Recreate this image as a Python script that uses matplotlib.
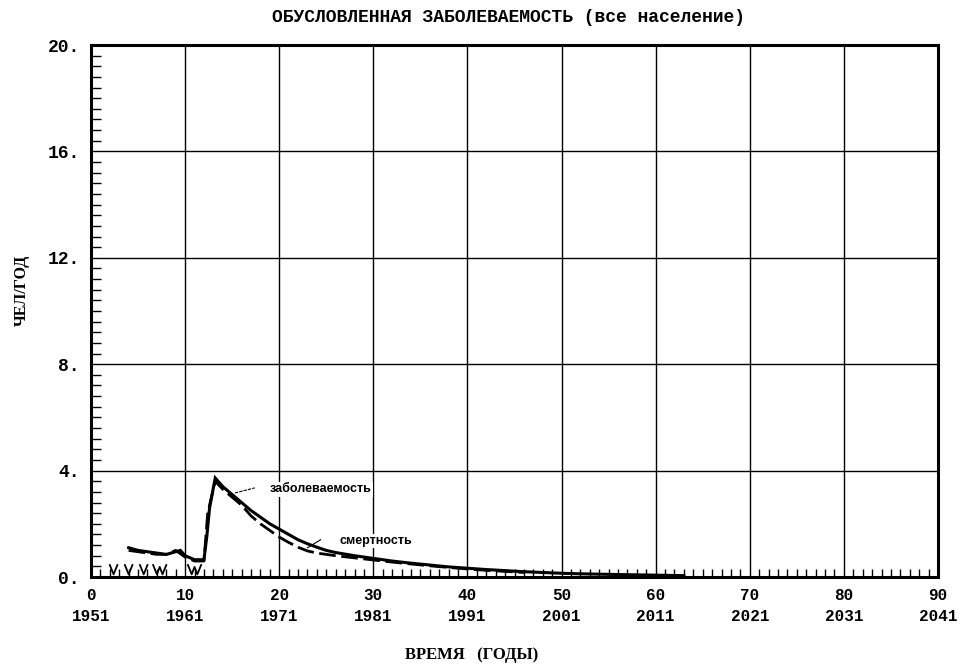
import numpy as np
import matplotlib
matplotlib.use("Agg")
import matplotlib.pyplot as plt
from matplotlib.ticker import MultipleLocator

# ---- data ----
inc_x = [4, 5, 6, 7, 8, 9, 9.5, 10, 11, 12, 12.3, 12.6, 13.2, 14, 15, 16, 17, 18, 19, 20,
         21, 22, 23, 24, 25, 26, 28, 30, 32, 34, 36, 38, 40, 42, 44, 46, 48, 50, 52, 55,
         58, 60, 63]
inc_y = [1.1, 1.0, 0.95, 0.9, 0.85, 0.95, 1.0, 0.8, 0.65, 0.65, 1.5, 2.6, 3.72, 3.4, 3.1,
         2.8, 2.5, 2.25, 2.0, 1.8, 1.6, 1.4, 1.25, 1.12, 1.0, 0.92, 0.8, 0.7, 0.6, 0.52,
         0.45, 0.38, 0.33, 0.28, 0.24, 0.2, 0.17, 0.14, 0.12, 0.1, 0.08, 0.07, 0.05]

mort_x = [4, 5, 6, 7, 8, 9, 10, 11, 12, 12.4, 13.2, 14, 15, 16, 17, 18, 19, 20, 21, 22,
          23, 24, 25, 26, 28, 30, 32, 34, 36, 38, 40, 42, 44, 46]
mort_y = [1.0, 0.95, 0.9, 0.85, 0.85, 1.0, 0.75, 0.6, 0.6, 2.4, 3.6, 3.3, 3.0, 2.7, 2.3,
          2.0, 1.75, 1.5, 1.3, 1.12, 0.98, 0.9, 0.85, 0.8, 0.72, 0.64, 0.56, 0.49, 0.42,
          0.36, 0.3, 0.25, 0.21, 0.17]

low_x = [2.0, 2.4, 2.8, np.nan, 3.6, 4.0, 4.4, np.nan, 5.2, 5.6, 6.0, np.nan,
         6.6, 7.0, 7.3, 7.6, 8.0, np.nan, 10.3, 10.7, 11.0, 11.3, 11.7]
low_y = [0.45, 0.1, 0.45, np.nan, 0.45, 0.1, 0.45, np.nan, 0.45, 0.1, 0.45, np.nan,
         0.45, 0.1, 0.38, 0.1, 0.45, np.nan, 0.45, 0.1, 0.38, 0.1, 0.45]

x_ticks = [0, 10, 20, 30, 40, 50, 60, 70, 80, 90]
x_years = [1951, 1961, 1971, 1981, 1991, 2001, 2011, 2021, 2031, 2041]
y_ticks = [0, 4, 8, 12, 16, 20]

title = "ОБУСЛОВЛЕННАЯ ЗАБОЛЕВАЕМОСТЬ (все население)"
xlabel = "ВРЕМЯ   (ГОДЫ)"
ylabel = "ЧЕЛ/ГОД"
lab_inc = "заболеваемость"
lab_mort = "смертность"

# ---- figure ----
fig = plt.figure(figsize=(9.67, 6.66), dpi=100)
ax = fig.add_axes([91/967, 1-577/666, (938-91)/967, (577-45)/666])

mono = "Liberation Mono"

ax.plot(inc_x, inc_y, color="black", lw=2.2, solid_joinstyle="miter", zorder=3)
ax.plot(mort_x, mort_y, color="black", lw=2.0, ls=(0, (6, 2)), zorder=3)
ax.plot(low_x, low_y, color="black", lw=1.3, zorder=3)

ax.set_xlim(0, 90)
ax.set_ylim(0, 20)
ax.set_xticks(x_ticks)
ax.set_xticklabels([f"{t}\n{yr}" for t, yr in zip(x_ticks, x_years)],
                   fontfamily=mono, fontweight="bold", fontsize=11.5, linespacing=1.5)
ax.set_yticks(y_ticks)
ax.set_yticklabels([f"{t}." for t in y_ticks], fontfamily=mono, fontweight="bold", fontsize=13)
ax.xaxis.set_minor_locator(MultipleLocator(1))
ax.yaxis.set_minor_locator(MultipleLocator(0.4))
ax.tick_params(which="both", direction="in", top=False, right=False, color="black")
ax.tick_params(which="major", length=0, pad=8)
ax.tick_params(axis="x", which="minor", length=6, width=1)
ax.tick_params(axis="y", which="minor", length=7, width=1)
ax.grid(True, which="major", color="black", lw=1.0)
for s in ax.spines.values():
    s.set_linewidth(2.2)

ax.text(19.0, 3.3, lab_inc, fontfamily="Liberation Sans", fontweight="bold", fontsize=9,
        va="center", ha="left", zorder=4,
        bbox=dict(facecolor="white", edgecolor="none", pad=1))
ax.plot([15.3, 17.4], [3.16, 3.35], color="black", lw=0.8, ls=(0, (3, 1)), zorder=4)
ax.text(26.4, 1.35, lab_mort, fontfamily="Liberation Sans", fontweight="bold", fontsize=9,
        va="center", ha="left", zorder=4,
        bbox=dict(facecolor="white", edgecolor="none", pad=1))
ax.plot([23.0, 24.4], [1.1, 1.4], color="black", lw=0.8, zorder=4)

fig.text(508/967, 1-18/666, title, fontfamily=mono, fontweight="bold", fontsize=13,
         ha="center", va="center")
fig.text(472/967, 1-655/666, xlabel, fontfamily="Liberation Serif", fontweight="bold",
         fontsize=12, ha="center", va="center")
fig.text(22/967, 1-290/666, ylabel, fontfamily="Liberation Serif", fontweight="bold",
         fontsize=11.5, rotation=90, ha="center", va="center")

fig.savefig("out.png", dpi=100, facecolor="white")
